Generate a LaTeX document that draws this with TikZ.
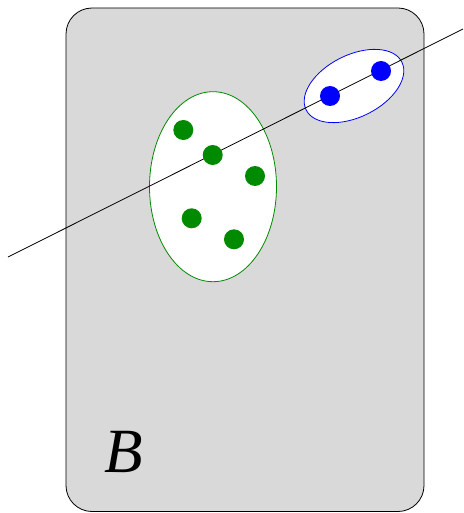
\documentclass[tikz,border=0pt]{standalone}
\usepackage{fontspec}
\newfontfamily\labfont{Liberation Serif}
\usetikzlibrary{shapes.geometric}
\definecolor{dotgreen}{RGB}{0,138,0}
\definecolor{boxgray}{RGB}{217,217,217}
\tikzset{
  gdot/.style={circle,fill=dotgreen,inner sep=0pt,minimum size=20pt},
  bdot/.style={circle,fill=blue,inner sep=0pt,minimum size=20pt},
  thinline/.style={line width=0.8pt}
}
\begin{document}
\begin{tikzpicture}[x=1pt,y=-1pt]
\useasboundingbox (0,0) rectangle (463,513);
% big rounded box
\draw[thinline,fill=boxgray,rounded corners=26pt] (66,8) rectangle (424,511.5);
% green ellipse
\draw[thinline,draw=dotgreen,fill=white] (213,186.7) ellipse [x radius=63.5, y radius=95];
% blue ellipse
\draw[thinline,draw=blue,fill=white,rotate around={26.6:(354,86)}] (354,86) ellipse [x radius=53.5, y radius=31];
% line
\coordinate (l1) at (8,257);
\coordinate (l2) at (463,29);
\draw[thinline] (l1) -- (l2);
% dots
\node[gdot] (g1) at (183.3,130) {};
\node[gdot] (g2) at (212.7,155) {};
\node[gdot] (g3) at (255,176) {};
\node[gdot] (g4) at (191.7,218.3) {};
\node[gdot] (g5) at (234,239.3) {};
\node[bdot] (b1) at (330,96) {};
\node[bdot] (b2) at (381,71) {};
% label
\node[font=\labfont\itshape\fontsize{63}{70}\selectfont,inner sep=0pt,anchor=base] (lab) at (124,472) {B};
\end{tikzpicture}
\end{document}
